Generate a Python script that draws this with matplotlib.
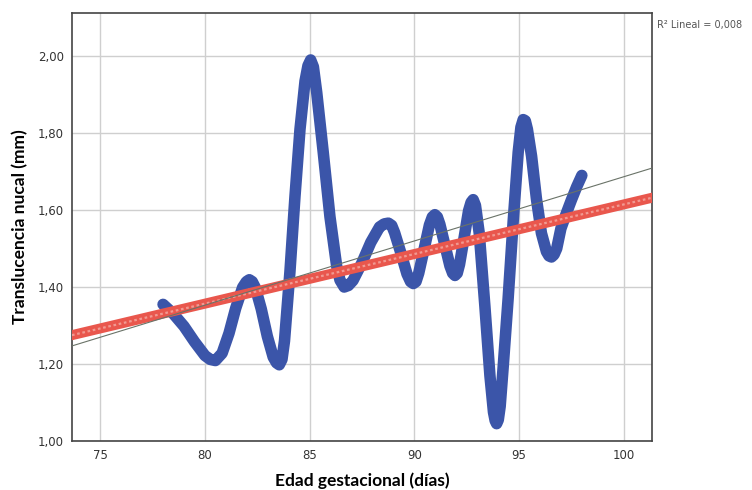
import matplotlib
matplotlib.use("Agg")
import matplotlib.pyplot as plt
from matplotlib.ticker import FuncFormatter

# Datos (edad gestacional en dias, TN en mm)
blue_x = [78.0, 78.5, 79.0, 79.5, 80.0, 80.25, 80.5, 80.82, 81.15, 81.47, 81.80,
          81.98, 82.12, 82.26, 82.41, 82.69, 82.98, 83.26, 83.42, 83.55, 83.68,
          83.8, 84.06, 84.30, 84.54, 84.78, 84.92, 85.05, 85.18, 85.34, 85.65,
          85.97, 86.29, 86.45, 86.65, 86.85, 87.07, 87.49, 87.92, 88.34, 88.56,
          88.76, 88.92, 89.06, 89.36, 89.65, 89.82, 89.95, 90.08, 90.21, 90.47,
          90.72, 90.86, 90.98, 91.10, 91.22, 91.46, 91.70, 91.83, 91.94, 92.05,
          92.16, 92.38, 92.59, 92.71, 92.81, 92.92, 93.10, 93.37, 93.61, 93.78,
          93.86, 93.93, 94.01, 94.10, 94.24, 94.48, 94.72, 94.96, 95.09, 95.20,
          95.30, 95.40, 95.60, 95.83, 96.07, 96.31, 96.43, 96.55, 96.67, 96.80,
          97.00, 97.25, 97.50, 97.75, 98.00]
blue_y = [1.355, 1.330, 1.298, 1.258, 1.222, 1.212, 1.209, 1.228, 1.280, 1.345, 1.399,
          1.414, 1.419, 1.414, 1.398, 1.343, 1.272, 1.218, 1.203, 1.198, 1.212,
          1.26, 1.44, 1.635, 1.81, 1.935, 1.975, 1.990, 1.972, 1.905, 1.75,
          1.583, 1.455, 1.418, 1.400, 1.404, 1.417, 1.462, 1.516, 1.556, 1.564,
          1.566, 1.560, 1.541, 1.488, 1.434, 1.414, 1.409, 1.414, 1.436, 1.499,
          1.561, 1.582, 1.588, 1.582, 1.563, 1.509, 1.455, 1.436, 1.430, 1.436,
          1.459, 1.529, 1.598, 1.620, 1.627, 1.612, 1.54, 1.35, 1.17, 1.075,
          1.053, 1.045, 1.055, 1.09, 1.19, 1.37, 1.57, 1.75, 1.815, 1.835,
          1.832, 1.81, 1.74, 1.63, 1.54, 1.492, 1.481, 1.478, 1.484, 1.50,
          1.552, 1.59, 1.626, 1.66, 1.69]

red_x = [73.65, 101.35]
red_y = [1.275, 1.632]

fit_x = [73.65, 101.35]
fit_y = [1.247, 1.709]

x_ticks = [75, 80, 85, 90, 95, 100]
y_ticks = [1.0, 1.2, 1.4, 1.6, 1.8, 2.0]
r2_text = "R\u00b2 Lineal = 0,008"

fig = plt.figure(figsize=(7.52, 4.9), dpi=100)
ax = fig.add_axes([0.0957, 0.1, 0.7713, 0.8735])

ax.plot(blue_x, blue_y, color="#3b55a9", lw=8.3, solid_joinstyle="round",
        solid_capstyle="round", zorder=3)
ax.plot(red_x, red_y, color="#e9574d", lw=7.2, zorder=4)
ax.plot(red_x, red_y, color="#f19a92", lw=1.6, ls=(0, (1.2, 1.2)), zorder=4)
ax.plot(fit_x, fit_y, color="#6a7368", lw=0.8, zorder=5)

ax.set_xlim(73.65, 101.35)
ax.set_ylim(1.0, 2.112)
ax.set_xticks(x_ticks)
ax.set_yticks(y_ticks)
ax.yaxis.set_major_formatter(FuncFormatter(lambda v, p: f"{v:.2f}".replace(".", ",")))
ax.tick_params(length=0, labelsize=8.5, labelcolor="#333333", pad=6)
ax.grid(True, color="#cfcfcf", lw=1.0, zorder=0)
ax.set_axisbelow(True)
for s in ax.spines.values():
    s.set_color("#444444")
    s.set_linewidth(1.2)

ax.set_xlabel("Edad gestacional (días)", fontsize=12.5, fontweight="bold",
              family="Lato", labelpad=7)
ax.set_ylabel("Translucencia nucal (mm)", fontsize=12.5, fontweight="bold",
              family="Lato", labelpad=7)

fig.text(0.874, 0.943, r2_text, fontsize=7, color="#555555")

fig.savefig("out.png", dpi=100)
